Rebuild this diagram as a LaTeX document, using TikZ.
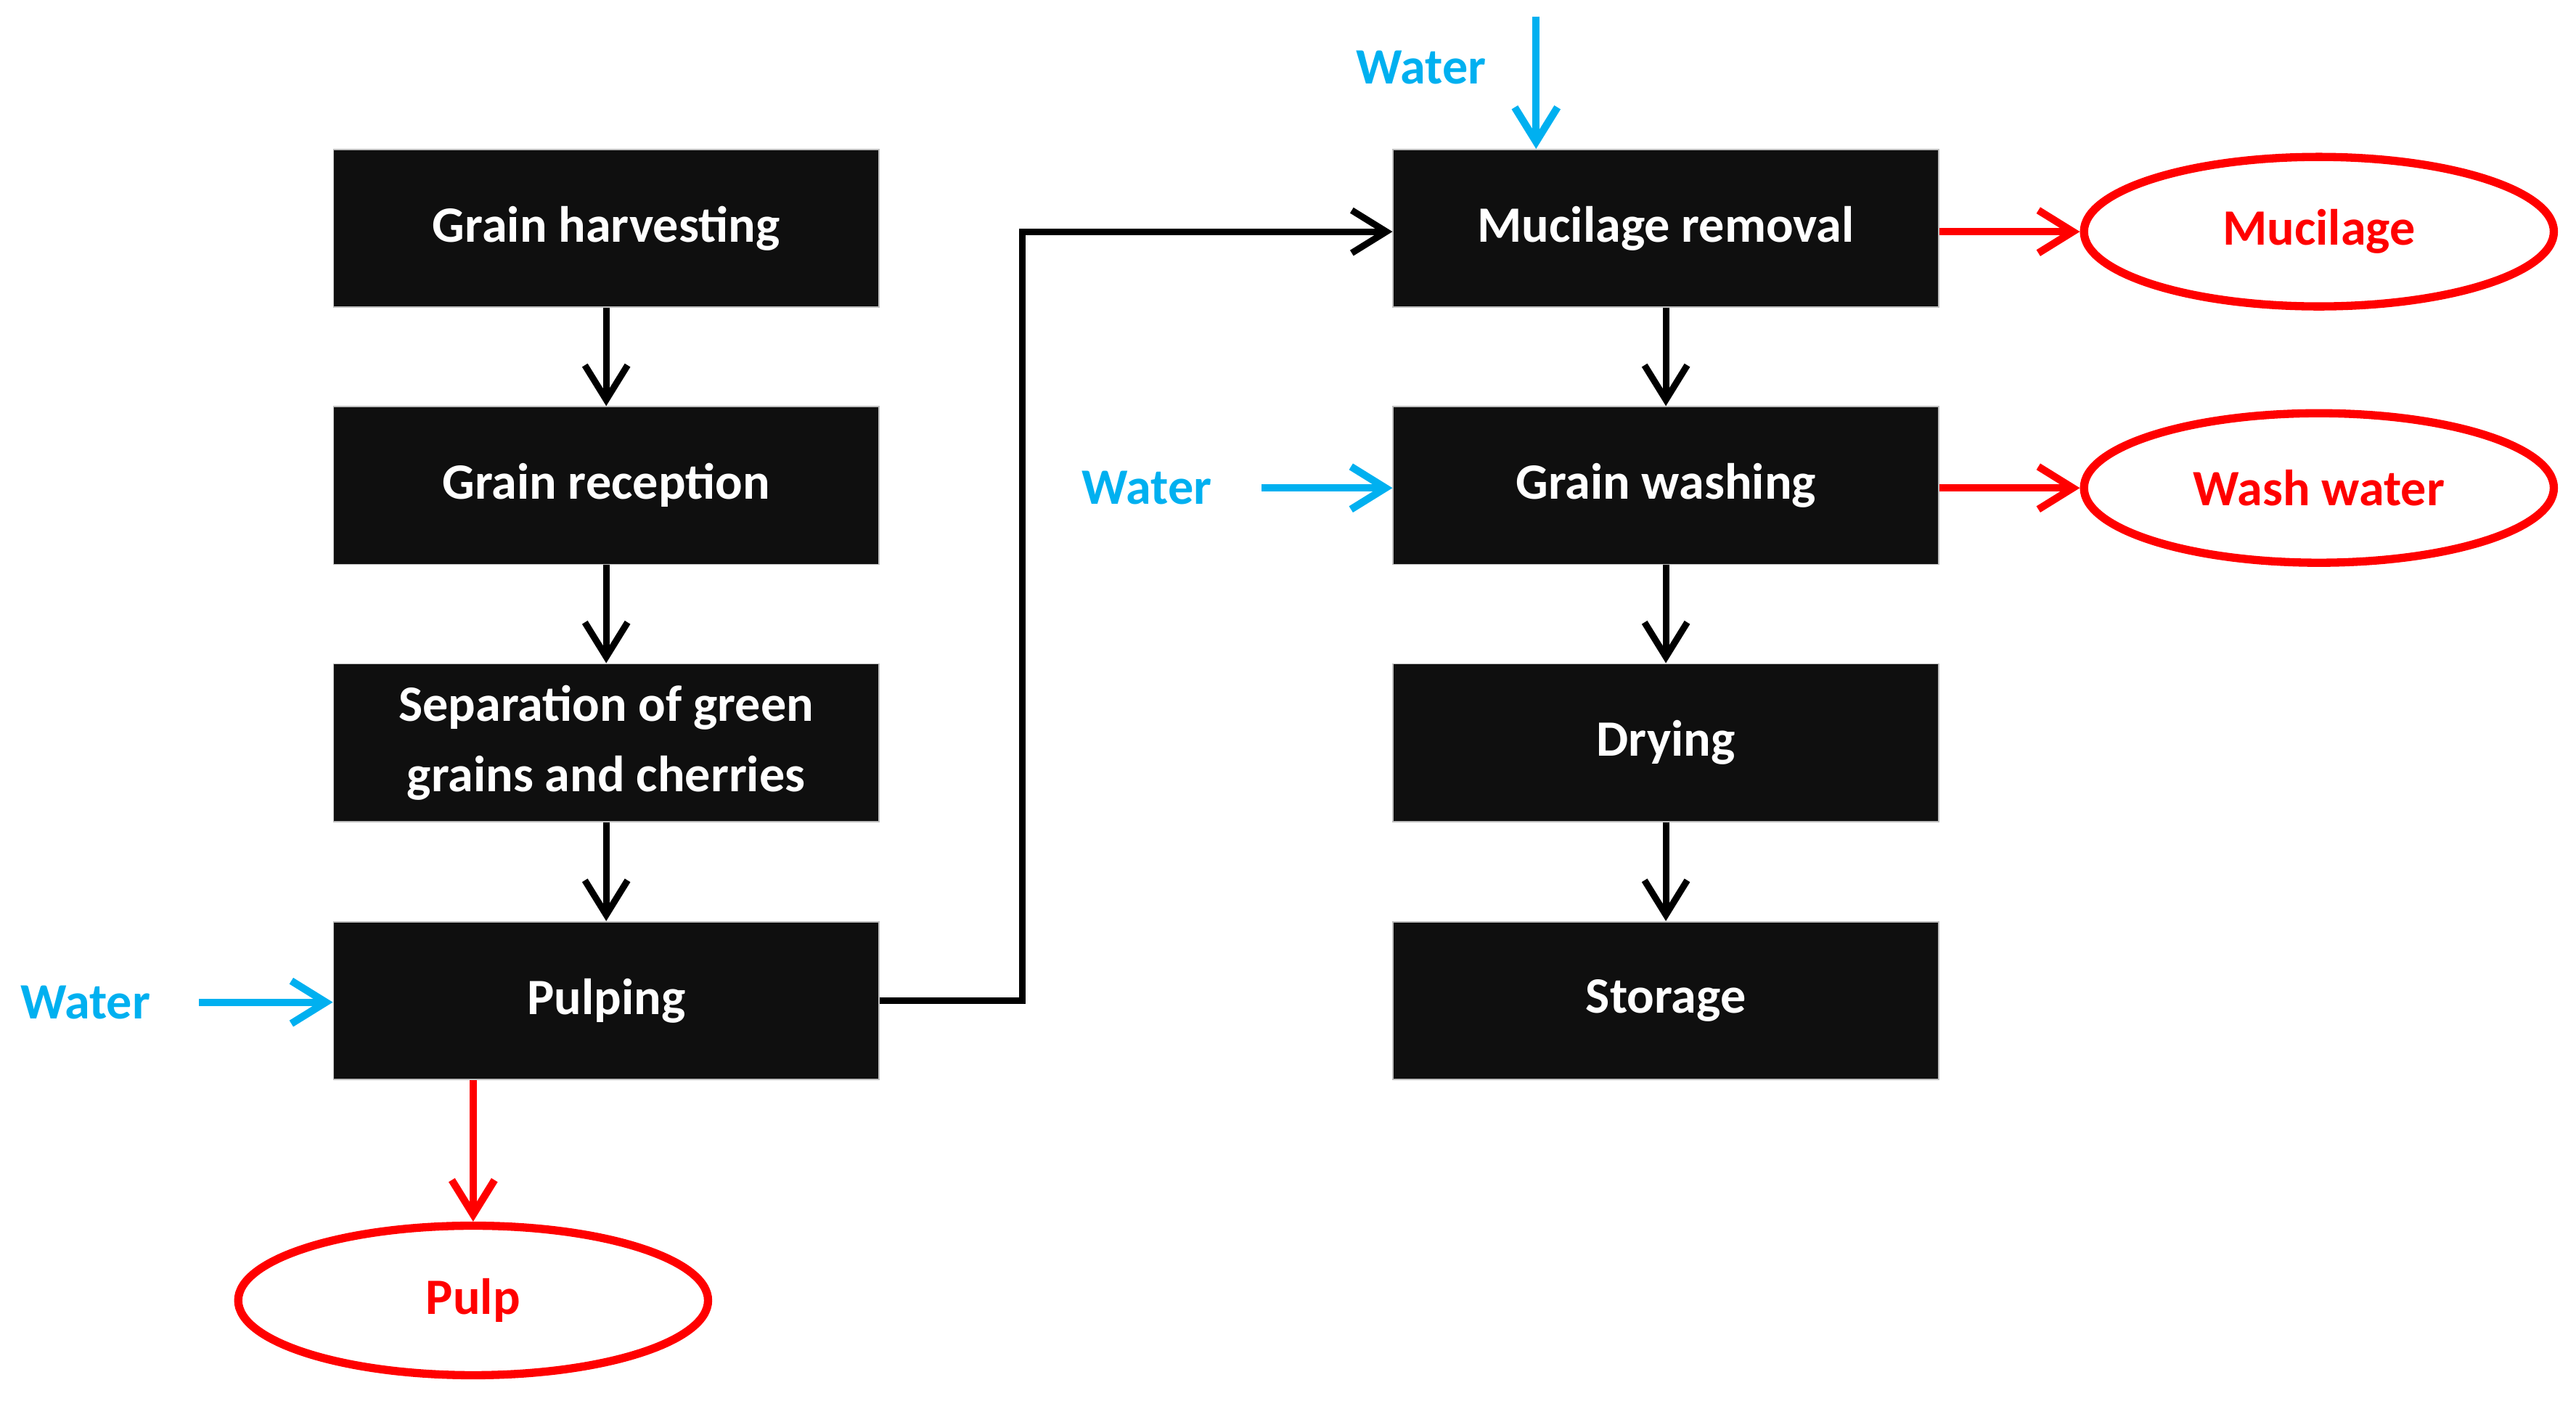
\documentclass[tikz,border=0pt]{standalone}
\usepackage{fontspec}
\setmainfont{Carlito}
\usetikzlibrary{arrows.meta,shapes.geometric}
\definecolor{boxblack}{HTML}{0F0F0F}
\definecolor{wcyan}{HTML}{00B0F0}
\definecolor{wred}{HTML}{FF0000}
\tikzset{
  procbox/.style={rectangle, fill=boxblack, draw=gray!50, line width=0.8pt,
    minimum width=332pt, minimum height=96pt, inner sep=0pt,
    text=white, align=center, font=\fontsize{31}{43}\selectfont\bfseries},
  wasteell/.style={ellipse, draw=wred, line width=5pt, minimum width=286pt,
    minimum height=91pt, inner sep=0pt, text=wred,
    font=\fontsize{31}{37}\selectfont\bfseries},
  waterlbl/.style={text=wcyan, inner sep=0pt, font=\fontsize{31}{37}\selectfont\bfseries},
  flow/.style={draw=black, line width=4pt, -{Straight Barb[length=21pt,width=26pt,line width=4pt]}},
  redflow/.style={draw=wred, line width=4.5pt, -{Straight Barb[length=21pt,width=26pt,line width=4.5pt]}},
  cyanflow/.style={draw=wcyan, line width=4.5pt, -{Straight Barb[length=21pt,width=26pt,line width=4.5pt]}}
}
\begin{document}
\begin{tikzpicture}[x=1pt,y=-1pt]
\useasboundingbox (0,0) rectangle (1568,852.7);
% left column
\node[procbox] (harv) at (369,139) {Grain harvesting};
\node[procbox] (recep) at (369,295.5) {Grain reception};
\node[procbox] (sep) at (369,452) {Separation of green\\grains and cherries};
\node[procbox] (pulping) at (369,609) {Pulping};
% right column
\node[procbox] (mucrem) at (1014,139) {Mucilage removal};
\node[procbox] (wash) at (1014,295.5) {Grain washing};
\node[procbox] (dry) at (1014,452) {Drying};
\node[procbox] (stor) at (1014,609) {Storage};
% waste ellipses
\node[wasteell] (mucil) at (1411.5,141) {Mucilage};
\node[wasteell] (washw) at (1411.5,297) {Wash water};
\node[wasteell] (pulp) at (288,791.5) {Pulp};
% water labels
\node[waterlbl] (wtop) at (865,41) {Water};
\node[waterlbl] (wmid) at (698,297) {Water};
\node[waterlbl] (wleft) at (52,610) {Water};
\coordinate (wtopstart) at (935,10);
\coordinate (wmidstart) at (768,297);
\coordinate (wleftstart) at (121,610);
% black flows
\draw[flow] (harv) -- (recep);
\draw[flow] (recep) -- (sep);
\draw[flow] (sep) -- (pulping);
\draw[flow] (mucrem) -- (wash);
\draw[flow] (wash) -- (dry);
\draw[flow] (dry) -- (stor);
\draw[flow] (pulping.east) -- ++(87,0) |- (mucrem.west |- mucil.west);
% red flows
\draw[redflow] (mucrem.east |- mucil.west) -- (mucil.west);
\draw[redflow] (wash.east |- washw.west) -- (washw.west);
\draw[redflow] (pulp.north |- pulping.south) -- (pulp.north);
% water flows
\draw[cyanflow] (wtopstart) -- (wtopstart |- mucrem.north);
\draw[cyanflow] (wmidstart) -- (wash.west |- wmidstart);
\draw[cyanflow] (wleftstart) -- (pulping.west |- wleftstart);
\end{tikzpicture}
\end{document}
